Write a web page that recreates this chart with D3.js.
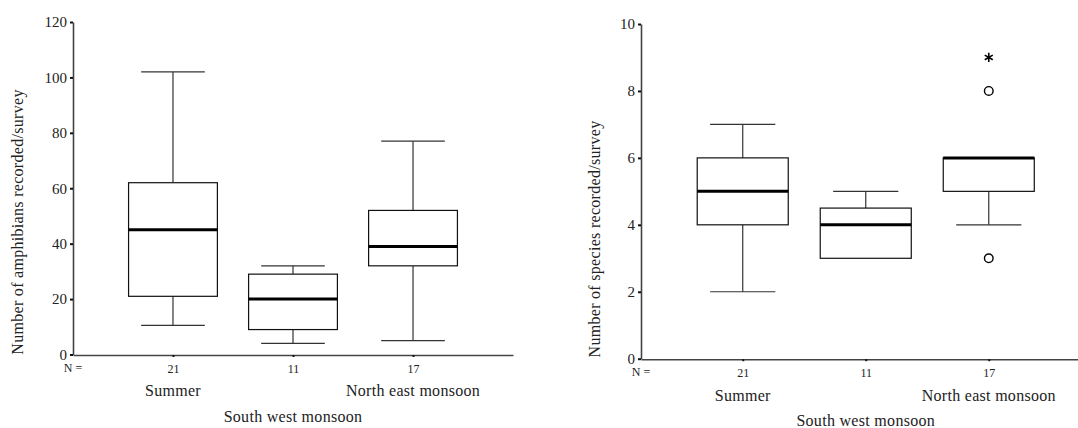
<!DOCTYPE html>
<html>
<head>
<meta charset="utf-8">
<script src="https://cdn.jsdelivr.net/npm/d3@7"></script>
<style>
  html, body { margin: 0; padding: 0; background: #fff; }
  svg { display: block; font-family: "Liberation Serif", "Times New Roman", serif; }
</style>
</head>
<body>
<svg id="chart" width="1078" height="428"></svg>
<script>
// Survey seasons and sample counts
const seasons = ["Summer", "South west monsoon", "North east monsoon"];
const sampleSizes = [21, 11, 17];

// Amphibians recorded per survey: five-number summaries
const amphibianWhiskerLow  = [10.5, 4, 5];
const amphibianQ1          = [21, 9, 32];
const amphibianMedian      = [45, 20, 39];
const amphibianQ3          = [62, 29, 52];
const amphibianWhiskerHigh = [102, 32, 77];
const amphibianTicks       = [0, 20, 40, 60, 80, 100, 120];

// Species recorded per survey: five-number summaries
const speciesWhiskerLow  = [2, 3, 4];
const speciesQ1          = [4, 3, 5];
const speciesMedian      = [5, 4, 6];
const speciesQ3          = [6, 4.5, 6];
const speciesWhiskerHigh = [7, 5, 6];
const speciesTicks       = [0, 2, 4, 6, 8, 10];
// Outliers (circles) and extreme values (asterisks)
const speciesOutlierSeason = ["North east monsoon", "North east monsoon"];
const speciesOutlierValue  = [8, 3];
const speciesExtremeSeason = ["North east monsoon"];
const speciesExtremeValue  = [9];

const svg = d3.select("#chart");

function boxRows(lo, q1, med, q3, hi) {
  return seasons.map((s, i) => ({ season: s, lo: lo[i], q1: q1[i], med: med[i], q3: q3[i], hi: hi[i] }));
}

function drawPanel(opt) {
  const g = svg.append("g");
  const y = d3.scaleLinear().domain(opt.domain).range([opt.yBottom, opt.yTop]);
  const x = d3.scalePoint().domain(seasons).range([opt.xLeft, opt.xRight]).padding(opt.padding);
  const step = x.step();
  const boxW = step * 0.74;
  const capW = step * 0.53;

  // Boxes
  const rows = boxRows(...opt.stats);
  const box = g.selectAll("g.box").data(rows).join("g").attr("class", "box");

  box.append("line")
    .attr("x1", d => x(d.season)).attr("x2", d => x(d.season))
    .attr("y1", d => y(d.q3)).attr("y2", d => y(d.hi))
    .attr("stroke", "#333").attr("stroke-width", 1.2);
  box.append("line")
    .attr("x1", d => x(d.season)).attr("x2", d => x(d.season))
    .attr("y1", d => y(d.q1)).attr("y2", d => y(d.lo))
    .attr("stroke", "#333").attr("stroke-width", 1.2);
  box.filter(d => d.hi > d.q3).append("line")
    .attr("x1", d => x(d.season) - capW / 2).attr("x2", d => x(d.season) + capW / 2)
    .attr("y1", d => y(d.hi)).attr("y2", d => y(d.hi))
    .attr("stroke", "#333").attr("stroke-width", 1.2);
  box.filter(d => d.lo < d.q1).append("line")
    .attr("x1", d => x(d.season) - capW / 2).attr("x2", d => x(d.season) + capW / 2)
    .attr("y1", d => y(d.lo)).attr("y2", d => y(d.lo))
    .attr("stroke", "#333").attr("stroke-width", 1.2);
  box.append("rect")
    .attr("x", d => x(d.season) - boxW / 2)
    .attr("width", boxW)
    .attr("y", d => y(d.q3))
    .attr("height", d => y(d.q1) - y(d.q3))
    .attr("fill", "#fff").attr("stroke", "#111").attr("stroke-width", 1.2);
  box.append("line")
    .attr("x1", d => x(d.season) - boxW / 2).attr("x2", d => x(d.season) + boxW / 2)
    .attr("y1", d => y(d.med)).attr("y2", d => y(d.med))
    .attr("stroke", "#000").attr("stroke-width", 3);

  // Outliers and extremes
  if (opt.outliers) {
    g.selectAll("circle.out").data(opt.outliers).join("circle").attr("class", "out")
      .attr("cx", d => x(d.season)).attr("cy", d => y(d.value)).attr("r", 4.3)
      .attr("fill", "none").attr("stroke", "#000").attr("stroke-width", 1.4);
  }
  if (opt.extremes) {
    g.selectAll("path.ext").data(opt.extremes).join("path").attr("class", "ext")
      .attr("transform", d => `translate(${x(d.season)},${y(d.value)})`)
      .attr("d", d3.symbol(d3.symbolAsterisk, 60))
      .attr("fill", "none").attr("stroke", "#000").attr("stroke-width", 1.6);
  }

  // Y axis
  const yAxis = d3.axisLeft(y).tickValues(opt.ticks).tickSize(3).tickPadding(3).tickSizeOuter(0);
  const ya = g.append("g").attr("transform", `translate(${opt.xLeft},0)`).call(yAxis);
  ya.select(".domain").attr("stroke", "#444").attr("stroke-width", 1.6);
  ya.selectAll(".tick line").attr("stroke", "#111").attr("stroke-width", 2);
  ya.selectAll(".tick text").attr("font-family", "Liberation Serif").attr("font-size", 15).attr("fill", "#222");

  // X axis
  const xAxis = d3.axisBottom(x).tickSize(2).tickSizeOuter(0).tickFormat((d, i) => sampleSizes[i]).tickPadding(7);
  const xa = g.append("g").attr("transform", `translate(0,${opt.yBottom + opt.xAxisOffset})`).call(xAxis);
  xa.select(".domain").attr("stroke", "#444").attr("stroke-width", 1.6);
  xa.selectAll(".tick line").attr("stroke", "#111").attr("stroke-width", 2);
  xa.selectAll(".tick text").attr("font-family", "Liberation Serif").attr("font-size", 12).attr("fill", "#222");

  const base = opt.yBottom + opt.xAxisOffset;
  g.append("text")
    .attr("x", opt.xLeft).attr("y", base + opt.nDy)
    .attr("text-anchor", "middle").attr("font-size", 12).attr("fill", "#222")
    .text("N =");

  // Staggered category names
  g.selectAll("text.cat").data(seasons).join("text").attr("class", "cat")
    .attr("x", d => x(d))
    .attr("y", (d, i) => base + (i % 2 === 0 ? opt.catDy1 : opt.catDy2))
    .attr("text-anchor", "middle").attr("font-size", 16).attr("fill", "#222")
    .attr("letter-spacing", 0.3)
    .text(d => d);

  // Y title
  g.append("text")
    .attr("transform", `translate(${opt.titleX},${opt.titleY}) rotate(-90)`)
    .attr("text-anchor", "middle").attr("font-size", 16).attr("fill", "#222")
    .attr("letter-spacing", 0.3)
    .text(opt.title);
}

drawPanel({
  domain: [0, 120], yBottom: 354.5, yTop: 22, ticks: amphibianTicks,
  xLeft: 73, xRight: 513, padding: 0.833, xAxisOffset: 0.5,
  stats: [amphibianWhiskerLow, amphibianQ1, amphibianMedian, amphibianQ3, amphibianWhiskerHigh],
  nDy: 17, catDy1: 41, catDy2: 67,
  titleX: 23, titleY: 222,
  title: "Number of amphibians recorded/survey"
});

drawPanel({
  domain: [0, 10], yBottom: 358.7, yTop: 24, ticks: speciesTicks,
  xLeft: 641, xRight: 1090.5, padding: 0.827, xAxisOffset: 0.5,
  stats: [speciesWhiskerLow, speciesQ1, speciesMedian, speciesQ3, speciesWhiskerHigh],
  outliers: speciesOutlierSeason.map((s, i) => ({ season: s, value: speciesOutlierValue[i] })),
  extremes: speciesExtremeSeason.map((s, i) => ({ season: s, value: speciesExtremeValue[i] })),
  nDy: 17, catDy1: 42, catDy2: 67,
  titleX: 600, titleY: 239,
  title: "Number of species recorded/survey"
});
</script>
</body>
</html>
